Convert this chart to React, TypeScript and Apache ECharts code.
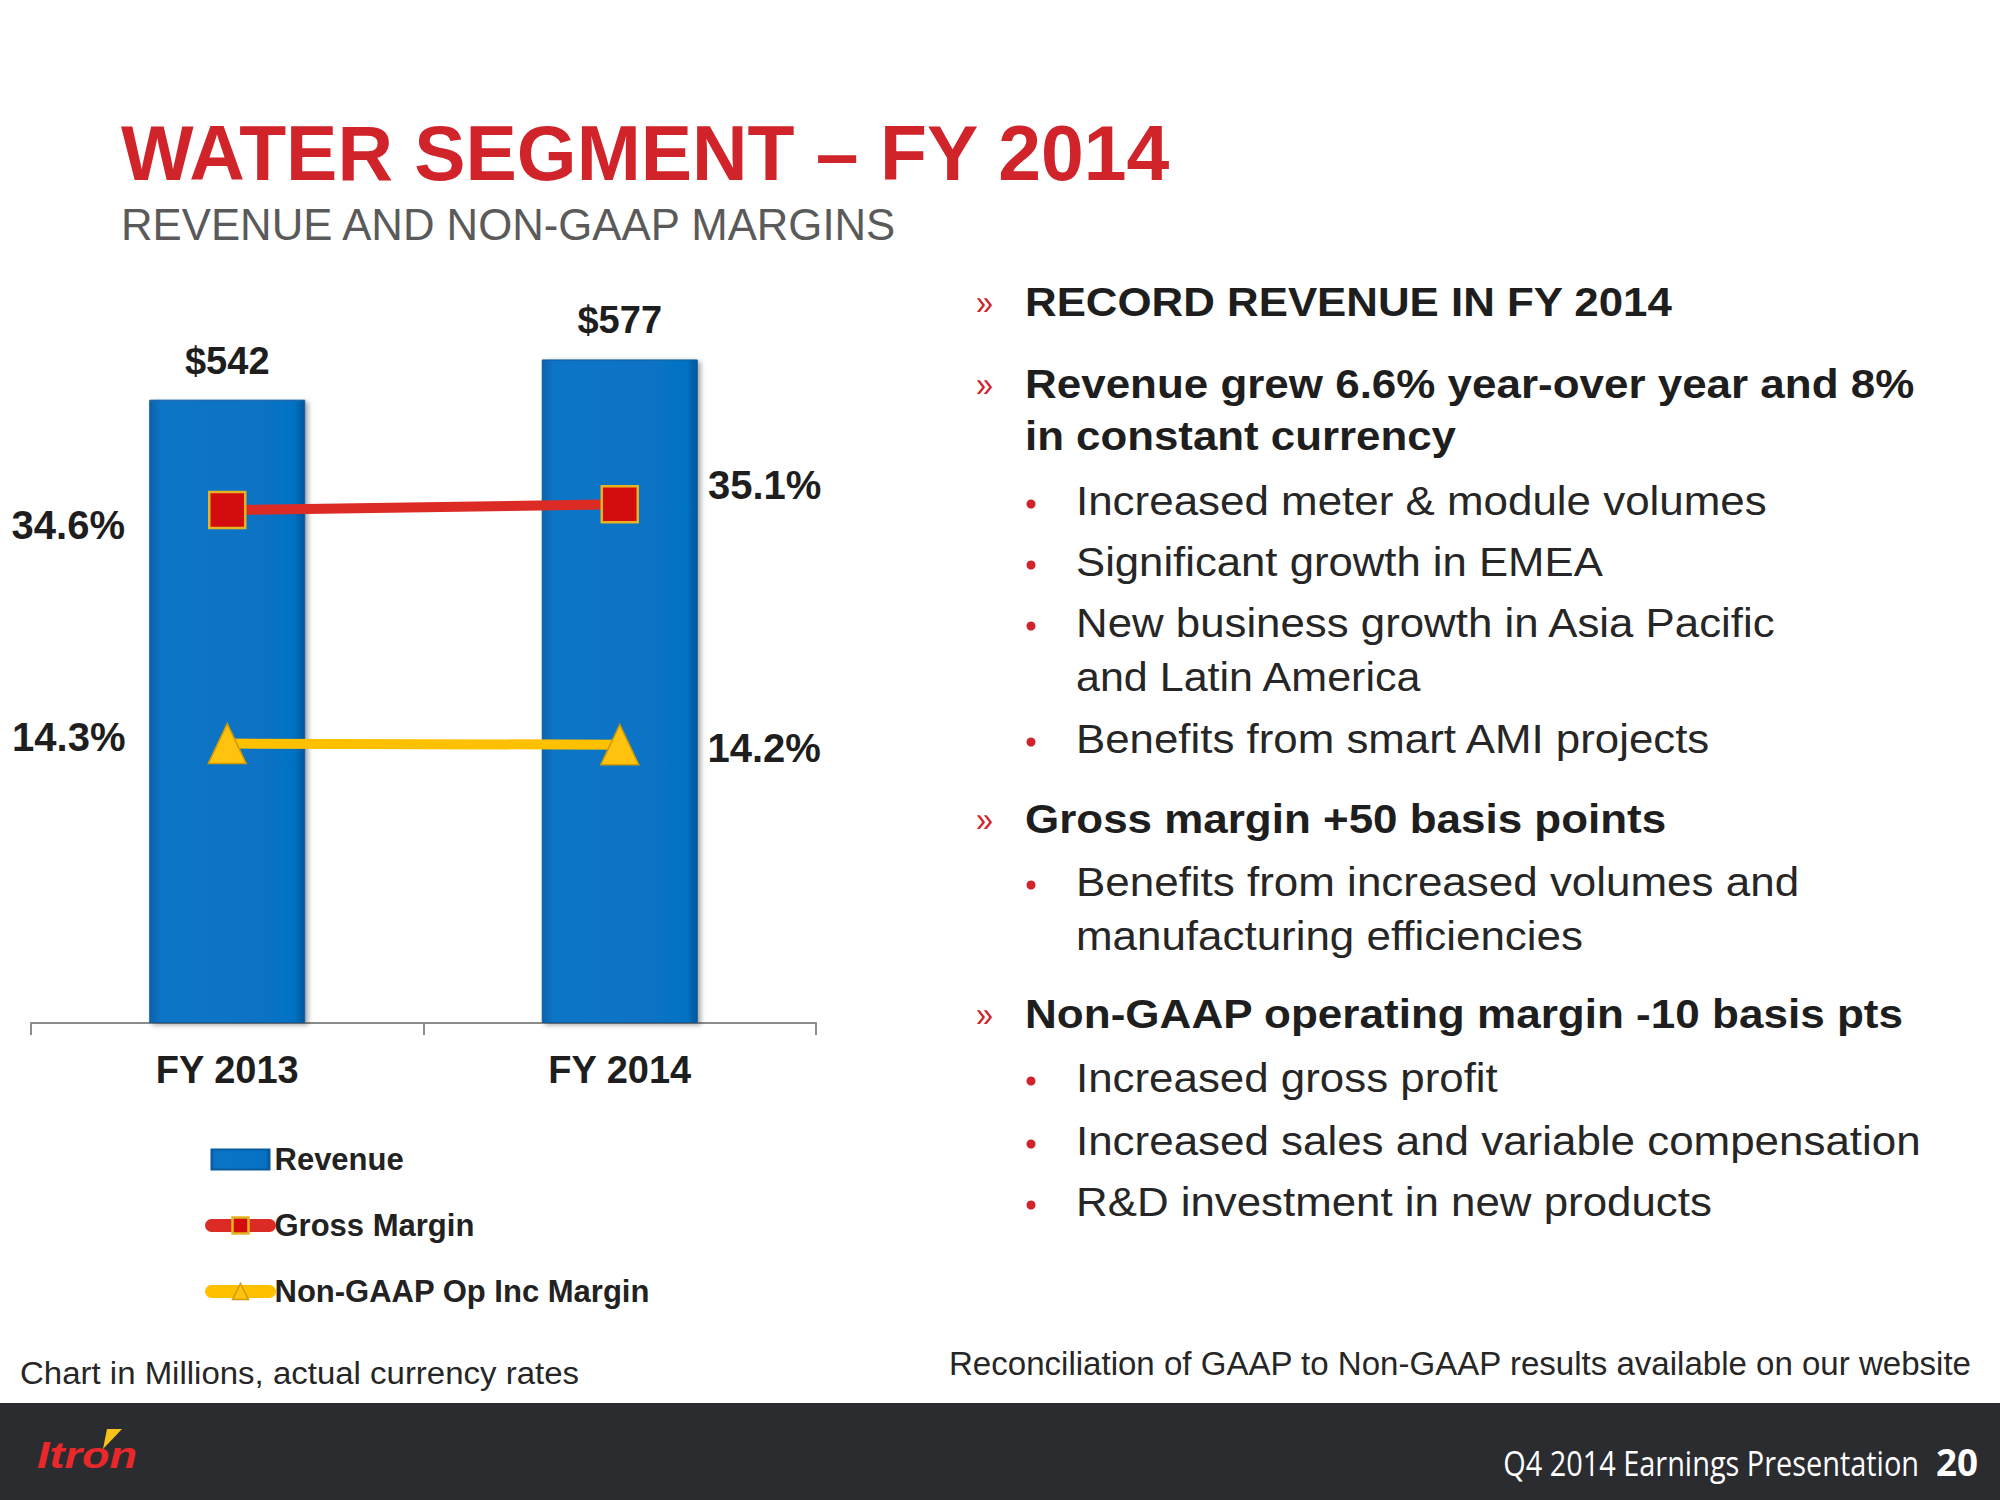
import React, { useEffect, useRef } from "react";
import * as echarts from "echarts";

// ---------- data ----------
const categories = ["FY 2013", "FY 2014"];
const revenue = [542, 577];
const grossMargin = [34.6, 35.1];
const opMargin = [14.3, 14.2];
const seriesNames = ["Revenue", "Gross Margin", "Non-GAAP Op Inc Margin"];

const titleText = "WATER SEGMENT \u2013 FY 2014";
const subtitleText = "REVENUE AND NON-GAAP MARGINS";
const panelTexts = [
  "RECORD REVENUE IN FY 2014",
  "Revenue grew 6.6% year-over year and 8%",
  "in constant currency",
  "Increased meter & module volumes",
  "Significant growth in EMEA",
  "New business growth in Asia Pacific",
  "and Latin America",
  "Benefits from smart AMI projects",
  "Gross margin +50 basis points",
  "Benefits from increased volumes and",
  "manufacturing efficiencies",
  "Non-GAAP operating margin -10 basis pts",
  "Increased gross profit",
  "Increased sales and variable compensation",
  "R&D investment in new products",
];
const noteLeft = "Chart in Millions, actual currency rates";
const noteRight = "Reconciliation of GAAP to Non-GAAP results available on our website";
const footerText = "Q4 2014 Earnings Presentation";
const pageNumber = "20";
const logoText = "Itron";

// ---------- layout (positions / sizes only) ----------
const panelLayout = [
  { kind: "head", y: 302, r: 1673 },
  { kind: "head", y: 384, r: 1914 },
  { kind: "headCont", y: 436, r: 1456 },
  { kind: "sub", y: 501, r: 1767 },
  { kind: "sub", y: 562, r: 1603 },
  { kind: "sub", y: 623, r: 1777 },
  { kind: "subCont", y: 677, r: 1423 },
  { kind: "sub", y: 739, r: 1712 },
  { kind: "head", y: 819, r: 1666 },
  { kind: "sub", y: 882, r: 1799 },
  { kind: "subCont", y: 936, r: 1583 },
  { kind: "head", y: 1014, r: 1904 },
  { kind: "sub", y: 1078, r: 1498 },
  { kind: "sub", y: 1141, r: 1921 },
  { kind: "sub", y: 1202, r: 1712 },
];
const gmLabelLayout = [
  { position: "left", distance: 83, offset: [0, 15] },
  { position: "right", distance: 69, offset: [0, -19] },
];
const omLabelLayout = [
  { position: "left", distance: 82, offset: [0, -7] },
  { position: "right", distance: 68, offset: [0, 3] },
];

const FONT = '"Liberation Sans", Arial, sans-serif';
const RED = "#d1232a";
const GM_LINE = "#dc2a24";
const OM_LINE = "#ffc000";

let measureCtx: CanvasRenderingContext2D | null = null;
function fit(text: string, font: string, target: number): number {
  if (!measureCtx) measureCtx = document.createElement("canvas").getContext("2d");
  if (!measureCtx) return 1;
  measureCtx.font = font;
  const w = measureCtx.measureText(text).width;
  return w > 0 ? target / w : 1;
}

function textEl(text: string, x: number, y: number, font: string, fill: string, width: number, align = "left") {
  return {
    type: "text",
    x,
    y,
    scaleX: fit(text, font, width),
    style: {
      text,
      x: 0,
      y: 0,
      font,
      fill,
      align,
      verticalAlign: "middle",
      textAlign: align,
      textVerticalAlign: "middle",
    },
  };
}

function buildGraphic() {
  const els: any[] = [];
  els.push({ type: "rect", shape: { x: 0, y: 1403, width: 2000, height: 97 }, style: { fill: "#2b2c30" } });
  els.push(textEl(titleText, 121, 153, `bold 78px ${FONT}`, RED, 1050));
  els.push(textEl(subtitleText, 121, 224, `44px ${FONT}`, "#5a5a5a", 778));

  const headFont = `bold 41px ${FONT}`;
  const subFont = `40px ${FONT}`;
  panelTexts.forEach((t, i) => {
    const l = panelLayout[i];
    const isHead = l.kind === "head" || l.kind === "headCont";
    const x = isHead ? 1025 : 1076;
    if (l.kind === "head") {
      els.push({
        type: "text",
        x: 976,
        y: l.y,
        scaleX: 0.85,
        style: { text: "\u00bb", x: 0, y: 0, font: `36px ${FONT}`, fill: RED, align: "left", verticalAlign: "middle", textAlign: "left", textVerticalAlign: "middle" },
      });
    }
    if (l.kind === "sub") {
      els.push({ type: "circle", shape: { cx: 1031, cy: l.y + 3, r: 4.5 }, style: { fill: RED } });
    }
    els.push(textEl(t, x, l.y, isHead ? headFont : subFont, isHead ? "#1e1e1e" : "#262626", l.r - x));
  });

  els.push(textEl(noteLeft, 20, 1373, `31px ${FONT}`, "#262626", 559));
  els.push(textEl(noteRight, 949, 1364, `33px ${FONT}`, "#262626", 1024));
  els.push(textEl(footerText, 1919, 1462, `35px "Open Sans", ${FONT}`, "#ffffff", 416, "right"));
  els.push(textEl(pageNumber, 1936, 1461, `bold 38px "Open Sans", ${FONT}`, "#ffffff", 42));
  els.push(textEl(logoText, 37, 1455, `italic bold 37px ${FONT}`, "#e8282b", 100));
  els.push({
    type: "polygon",
    shape: { points: [[107, 1429], [122, 1429], [103, 1449]] },
    style: { fill: "#f7c21c" },
  });
  return els;
}

export default function App() {
  const ref = useRef<HTMLDivElement>(null);
  useEffect(() => {
    if (!ref.current) return;
    const chart = echarts.init(ref.current, null, { renderer: "svg" });
    const barColor = new echarts.graphic.LinearGradient(0, 0, 1, 0, [
      { offset: 0, color: "#0862ab" },
      { offset: 0.07, color: "#0a74c6" },
      { offset: 0.93, color: "#0672c3" },
      { offset: 1, color: "#04569a" },
    ]);
    const gmItem = { color: "#d30d0d", borderColor: "#e6b422", borderWidth: 2.5 };
    const omItem = { color: "#ffc20e", borderColor: "#d09a00", borderWidth: 1.5 };
    chart.setOption({
      animation: false,
      backgroundColor: "#ffffff",
      textStyle: { fontFamily: FONT },
      grid: { left: 31, top: 333, width: 785, height: 690, containLabel: false },
      legend: {
        orient: "vertical",
        left: 205,
        top: 1144,
        itemWidth: 58,
        itemHeight: 20,
        itemGap: 35,
        padding: 0,
        data: [
          { name: seriesNames[0], icon: "rect" },
          { name: seriesNames[1], lineStyle: { width: 13, color: GM_LINE, cap: "round" }, itemStyle: gmItem },
          { name: seriesNames[2], lineStyle: { width: 13, color: OM_LINE, cap: "round" }, itemStyle: omItem },
        ],
        textStyle: { fontSize: 31, fontWeight: "bold", color: "#222222", fontFamily: FONT },
      },
      xAxis: {
        type: "category",
        data: categories,
        axisLine: { lineStyle: { color: "#8c8c8c", width: 2 } },
        axisTick: { show: true, length: 12, lineStyle: { color: "#8c8c8c", width: 2 } },
        axisLabel: { fontSize: 38, fontWeight: "bold", color: "#1e1e1e", margin: 28, fontFamily: FONT },
      },
      yAxis: [
        { type: "value", min: 0, max: 600, show: false },
        { type: "value", min: -10, max: 50, show: false },
      ],
      series: [
        {
          name: seriesNames[0],
          type: "bar",
          data: revenue,
          barWidth: 156,
          itemStyle: {
            color: barColor,
            borderColor: "#0a5a9e",
            borderWidth: 1,
            shadowColor: "rgba(0,0,0,0.35)",
            shadowBlur: 5,
            shadowOffsetX: 3,
            shadowOffsetY: 2,
          },
          label: {
            show: true,
            position: "top",
            distance: 20,
            formatter: "${c}",
            fontSize: 38,
            fontWeight: "bold",
            color: "#1e1e1e",
            fontFamily: FONT,
          },
        },
        {
          name: seriesNames[1],
          type: "line",
          yAxisIndex: 1,
          data: grossMargin.map((v, i) => ({ value: v, label: gmLabelLayout[i] })),
          symbol: "rect",
          symbolSize: 36,
          lineStyle: { color: GM_LINE, width: 10, cap: "round" },
          itemStyle: gmItem,
          label: { show: true, formatter: "{c}%", fontSize: 40, fontWeight: "bold", color: "#1e1e1e", fontFamily: FONT },
          z: 4,
        },
        {
          name: seriesNames[2],
          type: "line",
          yAxisIndex: 1,
          data: opMargin.map((v, i) => ({ value: v, label: omLabelLayout[i] })),
          symbol: "triangle",
          symbolSize: [38, 40],
          lineStyle: { color: OM_LINE, width: 10, cap: "round" },
          itemStyle: omItem,
          label: { show: true, formatter: "{c}%", fontSize: 40, fontWeight: "bold", color: "#1e1e1e", fontFamily: FONT },
          z: 4,
        },
      ],
      graphic: { elements: buildGraphic() },
    });
    return () => chart.dispose();
  }, []);
  return (
    <div
      ref={ref}
      style={{ position: "absolute", left: 0, top: 0, width: 2000, height: 1500, background: "#ffffff" }}
    />
  );
}
